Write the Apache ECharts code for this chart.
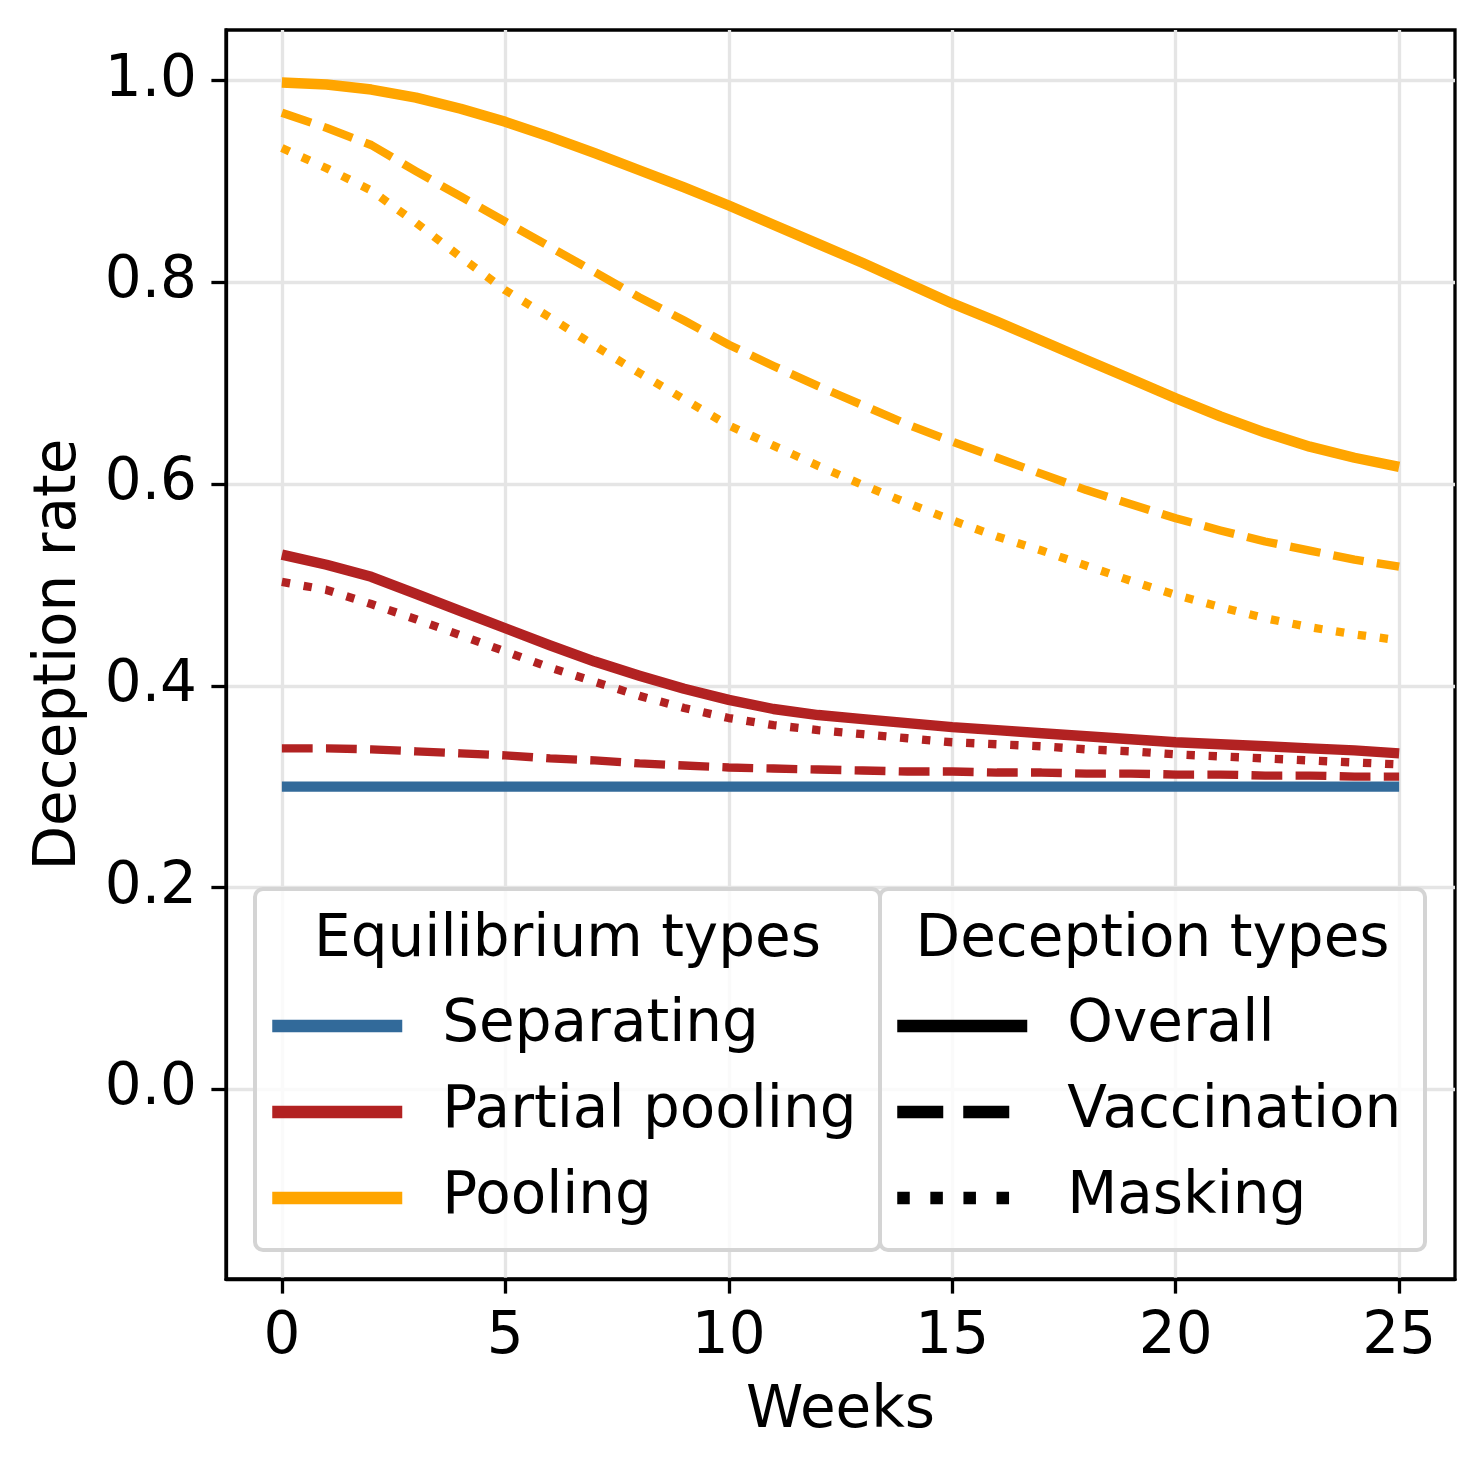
<!DOCTYPE html>
<html>
<head>
<meta charset="utf-8">
<script src="https://cdn.jsdelivr.net/npm/echarts@6/dist/echarts.min.js"></script>
<style>
html,body{margin:0;padding:0;background:#fff;}
#chart{width:1484px;height:1470px;}
</style>
</head>
<body>
<div id="chart"></div>
<script>
// ---- data ----
const weeks = [0,1,2,3,4,5,6,7,8,9,10,11,12,13,14,15,16,17,18,19,20,21,22,23,24,25];
const separating = [0.300,0.300,0.300,0.300,0.300,0.300,0.300,0.300,0.300,0.300,0.300,0.300,0.300,0.300,0.300,0.300,0.300,0.300,0.300,0.300,0.300,0.300,0.300,0.300,0.300,0.300];
const partialOverall = [0.530,0.520,0.508,0.491,0.474,0.457,0.440,0.424,0.410,0.397,0.386,0.377,0.371,0.367,0.363,0.359,0.356,0.353,0.350,0.347,0.344,0.342,0.340,0.338,0.336,0.333];
const partialVaccination = [0.338,0.338,0.337,0.335,0.333,0.331,0.328,0.326,0.323,0.321,0.319,0.318,0.317,0.316,0.315,0.315,0.314,0.314,0.313,0.313,0.312,0.312,0.311,0.311,0.310,0.310];
const partialMasking = [0.503,0.495,0.481,0.466,0.450,0.434,0.418,0.404,0.390,0.378,0.368,0.361,0.356,0.352,0.348,0.344,0.342,0.340,0.337,0.335,0.332,0.330,0.328,0.326,0.324,0.322];
const poolingOverall = [0.998,0.996,0.991,0.983,0.972,0.959,0.944,0.928,0.911,0.894,0.876,0.857,0.838,0.819,0.799,0.779,0.761,0.742,0.723,0.704,0.685,0.667,0.651,0.637,0.626,0.617];
const poolingVaccination = [0.968,0.953,0.936,0.910,0.885,0.860,0.835,0.810,0.785,0.762,0.738,0.717,0.697,0.678,0.659,0.642,0.626,0.610,0.594,0.580,0.566,0.554,0.543,0.534,0.525,0.518];
const poolingMasking = [0.933,0.913,0.891,0.859,0.825,0.792,0.765,0.737,0.710,0.684,0.658,0.638,0.618,0.599,0.581,0.564,0.548,0.534,0.519,0.504,0.490,0.478,0.467,0.458,0.451,0.445];

const xTicks = [0,5,10,15,20,25];
const yTicks = [0,0.2,0.4,0.6,0.8,1.0];
const equilibriumTypes = ['Separating','Partial pooling','Pooling'];
const deceptionTypes = ['Overall','Vaccination','Masking'];

// ---- styles ----
const FONT = 'DejaVu Sans';
const colors = {'Separating':'#326a9a','Partial pooling':'#b22222','Pooling':'#ffa500'};
const dashSolid = 'solid';
const dashDashed = [30.8, 13.3];
const dashDotted = [8.33, 13.75];
const legendDashed = [46, 20];
const legendDotted = [12.5, 20.6];

function pts(arr){ return weeks.map((w,i)=>[w, arr[i]]); }
function lineSeries(name, arr, color, type, width){
  return {
    name: name, type: 'line', data: pts(arr), showSymbol: false, symbol: 'none',
    silent: true, animation: false,
    lineStyle: {color: color, width: width, type: type, cap: 'butt', join: 'round'},
    itemStyle: {color: color}, z: 2
  };
}
function dummy(name, color, type){
  return {
    name: name, type: 'line', data: [], symbol: 'none', silent: true,
    lineStyle: {color: color, width: 12.5, type: type, cap: 'butt'},
    itemStyle: {color: color}
  };
}

const series = [
  lineSeries('Separating overall', separating, colors['Separating'], dashSolid, 10.4),
  lineSeries('Partial pooling overall', partialOverall, colors['Partial pooling'], dashSolid, 10.4),
  lineSeries('Partial pooling vaccination', partialVaccination, colors['Partial pooling'], dashDashed, 8.33),
  lineSeries('Partial pooling masking', partialMasking, colors['Partial pooling'], dashDotted, 8.33),
  lineSeries('Pooling overall', poolingOverall, colors['Pooling'], dashSolid, 10.4),
  lineSeries('Pooling vaccination', poolingVaccination, colors['Pooling'], dashDashed, 8.33),
  lineSeries('Pooling masking', poolingMasking, colors['Pooling'], dashDotted, 8.33),
  dummy('Separating', colors['Separating'], 'solid'),
  dummy('Partial pooling', colors['Partial pooling'], 'solid'),
  dummy('Pooling', colors['Pooling'], 'solid'),
  dummy('Overall', '#000', 'solid'),
  dummy('Vaccination', '#000', legendDashed),
  dummy('Masking', '#000', legendDotted)
];

const legendCommon = {
  orient: 'vertical', itemWidth: 130, itemHeight: 12, itemGap: 28,
  selectedMode: false, z: 10,
  textStyle: {fontSize: 58, lineHeight: 58, color: '#000', fontFamily: FONT, padding: [0,0,0,35]},
  lineStyle: {width: 12.5},
  itemStyle: {opacity: 0}
};

const chart = echarts.init(document.getElementById('chart'), null, {renderer: 'canvas'});
chart.setOption({
  animation: false,
  backgroundColor: '#ffffff',
  grid: {left: 226, right: 29, top: 30, bottom: 191, show: true, borderColor: '#000', borderWidth: 3.3, backgroundColor: 'transparent'},
  xAxis: {
    type: 'value', min: -1.25, max: 26.25,
    name: 'Weeks', nameLocation: 'middle', nameGap: 104,
    nameTextStyle: {fontSize: 58, color: '#000', fontFamily: FONT},
    axisLine: {show: true, onZero: false, lineStyle: {color: '#000', width: 3.3}},
    axisTick: {show: true, customValues: xTicks, length: 14.6, lineStyle: {color: '#000', width: 3.3}},
    axisLabel: {customValues: xTicks, fontSize: 58, color: '#000', fontFamily: FONT, margin: 30, formatter: v => String(v)},
    splitLine: {show: true, customValues: xTicks, lineStyle: {color: '#e5e5e5', width: 3.3}}
  },
  yAxis: {
    type: 'value', min: -0.188, max: 1.05,
    name: 'Deception rate', nameLocation: 'middle', nameGap: 137,
    nameTextStyle: {fontSize: 58, color: '#000', fontFamily: FONT},
    axisLine: {show: true, onZero: false, lineStyle: {color: '#000', width: 3.3}},
    axisTick: {show: true, customValues: yTicks, length: 14.6, lineStyle: {color: '#000', width: 3.3}},
    axisLabel: {customValues: yTicks, fontSize: 58, color: '#000', fontFamily: FONT, margin: 29, formatter: v => v.toFixed(1)},
    splitLine: {show: true, customValues: yTicks, lineStyle: {color: '#e5e5e5', width: 3.3}}
  },
  legend: [
    Object.assign({}, legendCommon, {data: equilibriumTypes, left: 261, top: 992}),
    Object.assign({}, legendCommon, {data: deceptionTypes, left: 886, top: 992})
  ],
  graphic: [
    {type: 'rect', z: 3, shape: {x: 255, y: 889, width: 625, height: 361, r: 8},
     style: {fill: 'rgba(255,255,255,0.8)', stroke: '#d4d4d4', lineWidth: 4}},
    {type: 'rect', z: 3, shape: {x: 880, y: 889, width: 545, height: 361, r: 8},
     style: {fill: 'rgba(255,255,255,0.8)', stroke: '#d4d4d4', lineWidth: 4}},
    {type: 'text', z: 4, x: 567.5, y: 941,
     style: {text: 'Equilibrium types', fontSize: 58, fontFamily: FONT, fill: '#000', align: 'center', verticalAlign: 'middle'}},
    {type: 'text', z: 4, x: 1152.5, y: 941,
     style: {text: 'Deception types', fontSize: 58, fontFamily: FONT, fill: '#000', align: 'center', verticalAlign: 'middle'}}
  ],
  series: series
});
</script>
</body>
</html>
